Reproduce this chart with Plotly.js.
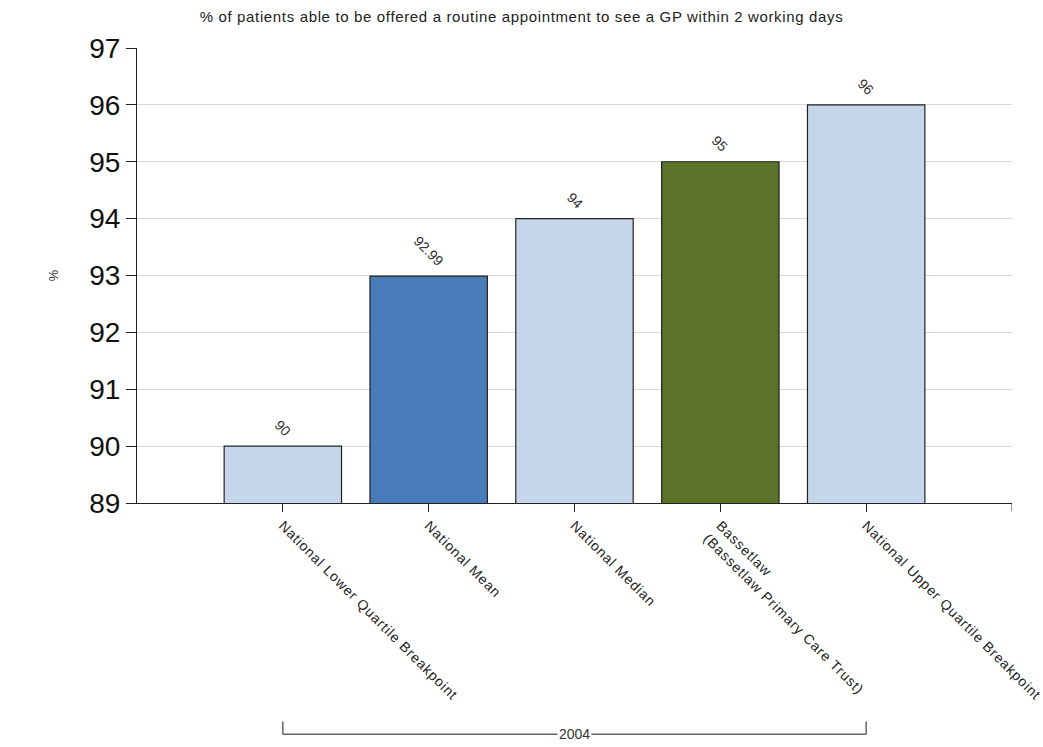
<!DOCTYPE html>
<html>
<head>
<meta charset="utf-8">
<script src="https://cdn.plot.ly/plotly-3.0.1.min.js"></script>
<style>
  html, body { margin: 0; padding: 0; background: #fff; }
  #chart { width: 1043px; height: 747px; }
  .xtick text { letter-spacing: 0.85px; }
  .gtitle { letter-spacing: 0.65px; }
</style>
</head>
<body>
<div id="chart"></div>
<script>
const categories = [
  "National Lower Quartile Breakpoint",
  "National Mean",
  "National Median",
  "Bassetlaw<br>(Bassetlaw Primary Care Trust)",
  "National Upper Quartile Breakpoint"
];
const values = [90, 92.99, 94, 95, 96];
const valueLabels = ["90", "92.99", "94", "95", "96"];
const barColors = ["#c6d6ea", "#4a7bb9", "#c6d6ea", "#5a7328", "#c6d6ea"];
const groupLabel = "2004";
const yTicks = [89, 90, 91, 92, 93, 94, 95, 96, 97];
const chartTitle = "% of patients able to be offered a routine appointment to see a GP within 2 working days";
const yTitle = "%";

const trace = {
  type: "bar",
  x: categories,
  y: values,
  marker: { color: barColors, line: { color: "#222", width: 1.2 } },
  hoverinfo: "skip",
  cliponaxis: true
};

const annotations = categories.map((c, i) => ({
  x: c, y: values[i], xref: "x", yref: "y",
  text: valueLabels[i], showarrow: false,
  textangle: 45, yanchor: "bottom", yshift: 4,
  font: { family: "Arial, Liberation Sans, sans-serif", size: 14, color: "#333" }
}));

const bracketY = -0.508;
const bracketTop = -0.48;

annotations.push({
  x: categories[2], y: bracketY, xref: "x", yref: "paper",
  text: groupLabel, showarrow: false, bgcolor: "#fff",
  yanchor: "middle", borderpad: 1,
  font: { family: "Arial, Liberation Sans, sans-serif", size: 14, color: "#333" }
});
annotations.push({
  x: -0.106, y: 0.5, xref: "paper", yref: "paper",
  text: yTitle, showarrow: false, textangle: 90,
  font: { family: "Arial, Liberation Sans, sans-serif", size: 13, color: "#333" }
});

const shapes = [
  { type: "line", xref: "x", yref: "paper", x0: 0, x1: 4, y0: bracketY, y1: bracketY, line: { color: "#666", width: 1.5 } },
  { type: "line", xref: "x", yref: "paper", x0: 0, x1: 0, y0: bracketY, y1: bracketTop, line: { color: "#666", width: 1.5 } },
  { type: "line", xref: "x", yref: "paper", x0: 4, x1: 4, y0: bracketY, y1: bracketTop, line: { color: "#666", width: 1.5 } },
  { type: "line", xref: "x", yref: "paper", x0: 5, x1: 5, y0: 0, y1: -0.018, line: { color: "#222", width: 1 } }
];

const layout = {
  width: 1043, height: 747,
  margin: { l: 137, r: 31, t: 48, b: 244 },
  paper_bgcolor: "#fff", plot_bgcolor: "#fff",
  showlegend: false,
  bargap: 0.195,
  title: {
    text: chartTitle, x: 0.5, xref: "container", y: 0.977, yref: "container", yanchor: "middle",
    font: { family: "Arial, Liberation Sans, sans-serif", size: 15, color: "#222" }
  },
  xaxis: {
    type: "category", range: [-1, 5],
    showgrid: false, zeroline: false,
    showline: true, linecolor: "#222", linewidth: 1,
    ticks: "outside", ticklen: 8, tickcolor: "#222", tickwidth: 1,
    tickangle: 45,
    tickfont: { family: "Arial, Liberation Sans, sans-serif", size: 14, color: "#222" }
  },
  yaxis: {
    range: [89, 97], tickvals: yTicks,
    showgrid: true, gridcolor: "#d9d9d9", gridwidth: 1,
    zeroline: false,
    showline: true, linecolor: "#222", linewidth: 1,
    ticks: "outside", ticklen: 10, tickcolor: "#222", tickwidth: 1,
    tickfont: { family: "Arial, Liberation Sans, sans-serif", size: 28, color: "#111" }
  },
  annotations: annotations,
  shapes: shapes
};

Plotly.newPlot("chart", [trace], layout, { displayModeBar: false, staticPlot: true });
</script>
</body>
</html>
